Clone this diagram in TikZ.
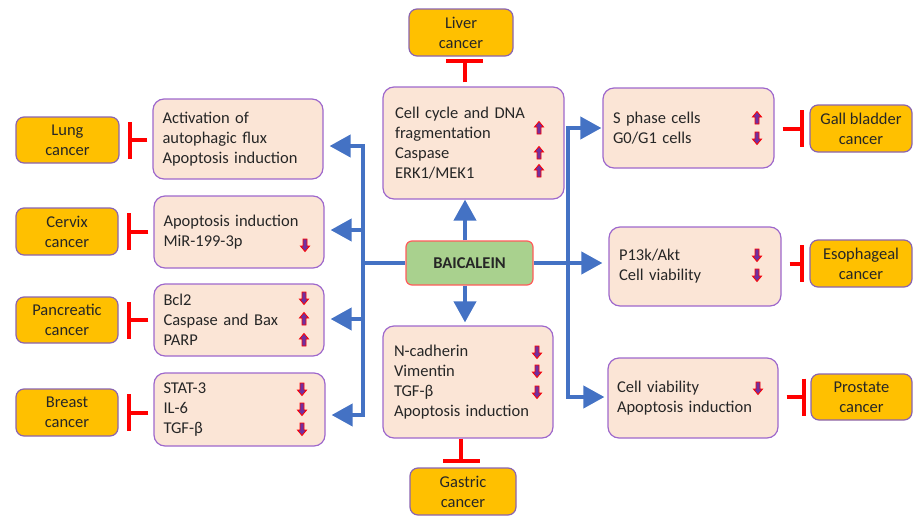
\documentclass[tikz,border=0pt]{standalone}
\usepackage{fontspec}
\setmainfont{Carlito}
\usetikzlibrary{arrows.meta}
\definecolor{pinkf}{HTML}{FBE5D6}
\definecolor{purpb}{HTML}{9E68CC}
\definecolor{orangef}{HTML}{FFC000}
\definecolor{orangeb}{HTML}{8A64B0}
\definecolor{greenf}{HTML}{A9D18E}
\definecolor{greenb}{HTML}{FF5B5B}
\definecolor{bluel}{HTML}{4472C4}
\definecolor{arrp}{HTML}{7030A0}
\definecolor{redl}{HTML}{FF0000}
\begin{document}
\begin{tikzpicture}[x=1pt,y=-1pt,
  every node/.style={font=\fontsize{16.5}{20}\selectfont, text=black!85},
  effbox/.style={draw=purpb, fill=pinkf, line width=1.2pt, rounded corners=11pt,
    align=left, inner ysep=0pt},
  cancer/.style={draw=orangeb, fill=orangef, line width=1.2pt, rounded corners=8pt,
    align=center, inner sep=0pt},
  drug/.style={draw=greenb, fill=greenf, line width=1.2pt, rounded corners=6pt,
    font=\fontsize{16.5}{20}\selectfont\bfseries, inner sep=0pt,
    minimum width=127pt, minimum height=44pt},
  bline/.style={draw=bluel, line width=4pt},
  barrow/.style={draw=bluel, line width=4pt, -{Triangle[length=21pt,width=22pt]}},
  inh/.style={draw=redl, line width=4pt, -{Bar[width=37pt]}},
  smallarr/.style={fill=arrp, draw=redl, line width=0.8pt, line join=miter},
  upa/.pic={\path[smallarr] (0,-6.5) -- (4.6,-1) -- (2,-1) -- (2,6) -- (-2,6) -- (-2,-1) -- (-4.6,-1) -- cycle;},
  downa/.pic={\path[smallarr] (0,6.5) -- (4.6,1) -- (2,1) -- (2,-6) -- (-2,-6) -- (-2,1) -- (-4.6,1) -- cycle;}
]
\useasboundingbox (0,0) rectangle (913,517);

% central drug
\node[drug] (baic) at (469.5,263) {BAICALEIN};

% effect boxes
\node[effbox, inner xsep=9.5pt, text width=151pt, minimum height=80pt] (b1) at (238,139)
  {Activation of\\autophagic flux\\Apoptosis induction};
\node[effbox, inner xsep=9.5pt, text width=151pt, minimum height=72pt] (b2) at (239,232)
  {Apoptosis induction\\MiR-199-3p};
\node[effbox, inner xsep=9.5pt, text width=151pt, minimum height=72pt] (b3) at (239,320)
  {Bcl2\\Caspase and Bax\\PARP};
\node[effbox, inner xsep=9.5pt, text width=152pt, minimum height=73pt] (b4) at (239.5,409.5)
  {STAT-3\\IL-6\\TGF-β};
\node[effbox, inner xsep=12pt, text width=157pt, minimum height=112pt] (bt) at (473.5,143)
  {Cell cycle and DNA\\fragmentation\\Caspase\\ERK1/MEK1};
\node[effbox, inner xsep=11pt, text width=148pt, minimum height=112pt] (bb) at (468,382)
  {N-cadherin\\Vimentin\\TGF-β\\Apoptosis induction};
\node[effbox, inner xsep=10pt, text width=151pt, minimum height=80pt] (bg) at (688.5,128)
  {S phase cells\\G0/G1 cells};
\node[effbox, inner xsep=10pt, text width=152pt, minimum height=79pt] (be) at (695,266.5)
  {P13k/Akt\\Cell viability};
\node[effbox, inner xsep=9pt, text width=152pt, minimum height=80pt] (bp) at (693,398)
  {Cell viability\\Apoptosis induction};

% cancer boxes
\node[cancer, minimum width=103pt, minimum height=46pt] (lung) at (67.5,140) {Lung\\cancer};
\node[cancer, minimum width=102pt, minimum height=47pt] (cervix) at (67,231.5) {Cervix\\cancer};
\node[cancer, minimum width=102pt, minimum height=46pt] (panc) at (67,320) {Pancreatic\\cancer};
\node[cancer, minimum width=102pt, minimum height=47pt] (breast) at (67,412.5) {Breast\\cancer};
\node[cancer, minimum width=104pt, minimum height=47pt] (liver) at (461,32.5) {Liver\\cancer};
\node[cancer, minimum width=106pt, minimum height=47pt] (gastric) at (463,491.5) {Gastric\\cancer};
\node[cancer, minimum width=102pt, minimum height=47pt] (gallc) at (861,128.5) {Gall bladder\\cancer};
\node[cancer, minimum width=102pt, minimum height=47pt] (esoc) at (861,263.5) {Esophageal\\cancer};
\node[cancer, minimum width=101pt, minimum height=46pt] (prosc) at (861.5,397) {Prostate\\cancer};

% blue connectors, left
\coordinate (LJ) at (363,263);
\coordinate (LT) at (363,146);
\coordinate (L2) at (363,230);
\coordinate (L3) at (363,319);
\coordinate (LB) at (363,415);
\draw[bline] (baic.west) -- (LJ);
\draw[bline] ([yshift=2pt]LT) -- ([yshift=-2pt]LB);
\draw[barrow, shorten >=6pt] (LT) -- (b1.east |- LT);
\draw[barrow, shorten >=6pt] (L2) -- (b2.east |- L2);
\draw[barrow, shorten >=6pt] (L3) -- (b3.east |- L3);
\draw[barrow, shorten >=6pt] (LB) -- (b4.east |- LB);

% blue connectors, right
\coordinate (RT) at (568,128);
\coordinate (RB) at (568,397);
\draw[bline] ([yshift=2pt]RT) -- ([yshift=-2pt]RB);
\draw[barrow, shorten >=1pt] (RT) -- (bg.west |- RT);
\draw[barrow, shorten >=6pt] (baic.east) -- (be.west |- baic.east);
\draw[barrow, shorten >=3pt] (RB) -- (bp.west |- RB);

% blue connectors, centre
\draw[barrow] ([xshift=-4.5pt]baic.north) -- ([xshift=-4.5pt]baic.north |- bt.south);
\draw[barrow, shorten >=3pt] ([xshift=-4.5pt]baic.south) -- ([xshift=-4.5pt]baic.south |- bb.north);

% red inhibitors
\draw[inh] ([xshift=-5pt]b1.west |- lung.east) -- ([xshift=8pt]lung.east);
\draw[inh] ([xshift=-5pt]b2.west |- cervix.east) -- ([xshift=8pt]cervix.east);
\draw[inh] ([xshift=-5pt]b3.west |- panc.east) -- ([xshift=8pt]panc.east);
\draw[inh] ([xshift=-5pt]b4.west |- breast.east) -- ([xshift=8pt]breast.east);
\draw[inh] ([xshift=8pt]bg.east |- gallc.west) -- ([xshift=-5pt]gallc.west);
\draw[inh] ([xshift=8pt]be.east |- esoc.west) -- ([xshift=-5pt]esoc.west);
\draw[inh] ([xshift=8pt]bp.east |- prosc.west) -- ([xshift=-4pt]prosc.west);
\draw[inh] ([xshift=3.5pt,yshift=4pt]liver.south |- bt.north) -- ([xshift=3.5pt,yshift=-2pt]liver.south);
\draw[inh] ([xshift=-2pt]gastric.north |- bb.south) -- ([xshift=-2pt,yshift=4pt]gastric.north);

% small up/down markers
\pic at (539,128) {upa};
\pic at (539,153) {upa};
\pic at (539,171) {upa};
\pic at (305,245) {downa};
\pic at (304,298) {downa};
\pic at (304,319) {upa};
\pic at (304,340) {upa};
\pic at (302,389) {downa};
\pic at (302,409) {downa};
\pic at (302,429) {downa};
\pic at (537,352) {downa};
\pic at (537,371) {downa};
\pic at (537,392) {downa};
\pic at (757,118) {upa};
\pic at (757,138) {downa};
\pic at (757,255) {downa};
\pic at (757,275) {downa};
\pic at (758,388) {downa};
\end{tikzpicture}
\end{document}
